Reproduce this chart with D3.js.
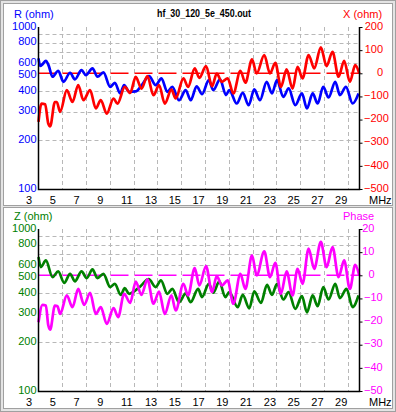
<!DOCTYPE html>
<html>
<head>
<meta charset="utf-8">
<script src="https://cdn.jsdelivr.net/npm/d3@7"></script>
<style>
body { margin: 0; background: #e4e4e4; }
svg { display: block; }
text { font-family: "Liberation Sans", Arial, sans-serif; font-size: 11px; }
</style>
</head>
<body>
<div id="chart"></div>
<script>
// frequency ticks (MHz)
var freqTicks = [3, 5, 7, 9, 11, 13, 15, 17, 19, 21, 23, 25, 27, 29];

// left (log) axis labels and grid
var ohmTicks = [1000, 800, 600, 500, 400, 300, 200, 100];
var ohmGrid = [200, 300, 400, 600, 700, 800, 900];

// right axis labels
var xTicks = [200, 100, 0, -100, -200, -300, -400, -500];
var phaseTicks = [20, 10, 0, -10, -20, -30, -40, -50];

// R (ohm) - blue
var rFreq = [3.0, 3.14, 3.35, 3.62, 3.85, 4.18, 4.66, 5.1, 5.66, 6.06, 6.62, 6.98, 7.54, 7.96, 8.46,
  9.03, 9.42, 9.87, 10.2, 10.62, 11.2, 11.7, 12.3, 12.86, 13.34, 13.84, 14.26, 14.82, 15.38, 15.8,
  16.3, 16.76, 17.32, 17.7, 18.27, 18.77, 19.05, 19.67, 20.18, 20.68, 21.15, 21.63, 22.19, 22.64,
  23.06, 23.59, 24.04, 24.6, 25.16, 25.58, 26.06, 26.48, 26.95, 27.4, 27.96, 28.35, 28.86, 29.42, 29.92];
var rVals = [640, 575, 590, 619, 580, 493, 537, 459, 522, 475, 542, 505, 555, 493, 525,
  427, 452, 389, 438, 398, 400, 440, 498, 438, 482, 398, 427, 353, 408, 353,
  430, 385, 470, 408, 475, 380, 408, 337, 392, 329, 412, 353, 459, 389,
  470, 370, 418, 329, 389, 314, 389, 337, 427, 367, 459, 380, 427, 337, 389];

// X (ohm) - red
var xFreq = [3.0, 3.25, 3.56, 3.82, 3.98, 4.38, 4.54, 4.82, 5.38, 5.86, 6.34, 6.78, 7.34, 7.82, 8.24,
  8.74, 9.31, 9.64, 10.26, 10.71, 11.18, 11.66, 12.16, 12.67, 13.14, 13.62, 14.18, 14.54, 15.19, 15.58,
  16.14, 16.53, 17.09, 17.6, 17.99, 18.43, 18.91, 19.39, 19.98, 20.4, 20.96, 21.35, 21.99, 22.47,
  22.92, 23.39, 23.87, 24.37, 24.79, 25.21, 25.72, 26.19, 26.75, 27.23, 27.73, 28.24, 28.71, 29.19, 29.64, 29.98];
var xVals = [-210, -131, -134, -217, -229, -124, -124, -167, -73, -124, -51, -116, -73, -152, -116,
  -174, -109, -131, -59, -85, -15, -66, -12, -95, -51, -131, -70, -109, -22, -59,
  21, -20, 31, -56, -1, -37, -22, -87, 11, -41, 60, -1, 79, -1,
  45, -59, 17, -66, 28, -22, 79, 21, 112, 31, 93, -15, 54, -37, 35, -1];

// Z (ohm) - green
var zFreq = [3.0, 3.2, 3.62, 4.18, 4.66, 5.16, 5.66, 6.06, 6.62, 7.06, 7.54, 7.96, 8.46, 9.03, 9.42,
  9.92, 10.26, 10.62, 11.1, 11.6, 12.27, 12.86, 13.3, 13.84, 14.26, 14.82, 15.38, 15.8, 16.42,
  16.76, 17.32, 17.7, 18.21, 18.71, 19.05, 19.75, 20.18, 20.73, 21.15, 21.71, 22.22, 22.64, 23.06,
  23.59, 24.04, 24.6, 25.16, 25.58, 26.06, 26.48, 26.95, 27.4, 27.96, 28.35, 28.91, 29.42, 29.92];
var zVals = [671, 582, 640, 505, 547, 465, 529, 475, 547, 498, 563, 498, 529, 438, 459,
  392, 431, 398, 415, 445, 490, 438, 482, 398, 427, 353, 400, 353, 427,
  380, 459, 404, 475, 380, 408, 329, 392, 324, 412, 350, 452, 392, 459,
  367, 408, 321, 385, 306, 389, 334, 438, 367, 459, 374, 427, 329, 389];

// Phase (deg) - magenta
var pFreq = [3.0, 3.34, 3.62, 3.82, 3.98, 4.38, 4.6, 4.82, 5.38, 5.86, 6.34, 6.84, 7.34, 7.82, 8.24,
  8.74, 9.31, 9.7, 10.2, 10.71, 11.18, 11.66, 12.16, 12.67, 13.14, 13.62, 14.18, 14.54, 15.19, 15.58,
  16.14, 16.53, 17.09, 17.6, 17.99, 18.43, 18.91, 19.39, 19.98, 20.4, 20.96, 21.35, 21.99, 22.47,
  22.92, 23.39, 23.87, 24.37, 24.79, 25.21, 25.72, 26.19, 26.75, 27.23, 27.73, 28.24, 28.71, 29.19, 29.64, 29.98];
var pVals = [-20.3, -12.8, -13.1, -21.5, -23.5, -13.1, -13.4, -16.7, -8.7, -13.8, -5.9, -12.8, -7.6, -16.7, -13.8,
  -21.0, -14.2, -18.1, -8.0, -11.9, -2.7, -8.5, -1.8, -12.3, -7.0, -16.7, -8.7, -15.2, -3.7, -8.7,
  3.1, -4.4, 4.0, -7.3, -0.4, -4.4, -2.2, -12.3, 0.6, -5.9, 8.6, -0.1, 10.3, -0.8,
  5.4, -8.0, 1.7, -8.7, 2.8, -3.7, 11.5, 2.8, 14.4, 3.5, 12.2, -0.8, 6.4, -5.9, 4.5, -0.1];

var W = 396, H = 412;
var svg = d3.select('#chart').append('svg').attr('width', W).attr('height', H);

// window background + panels
svg.append('rect').attr('x', 0.5).attr('y', 0.5).attr('width', W - 1).attr('height', H - 1)
  .attr('fill', '#e4e4e4').attr('stroke', '#a0a0a0');
svg.append('rect').attr('x', 3.5).attr('y', 3.5).attr('width', 389).attr('height', 202)
  .attr('fill', '#fff').attr('stroke', '#a0a0a0');
svg.append('rect').attr('x', 3.5).attr('y', 207.5).attr('width', 389).attr('height', 201)
  .attr('fill', '#fff').attr('stroke', '#a0a0a0');

var x0 = 38.5, x1 = 359.5;
var x = d3.scaleLinear().domain([3, 30]).range([x0, x1]);

function zip(f, v) {
  return f.map(function(d, i) { return [d, v[i]]; });
}

function drawPanel(off, o) {
  var top = 27 + off, bot = 189 + off;
  var g = svg.append('g');
  var yL = d3.scaleLog().domain([100, 1000]).range([bot, top]);
  var yR = d3.scaleLinear().domain(o.rDomain).range([bot, top]);

  // grid
  g.selectAll('.vg').data(freqTicks.slice(1)).enter().append('line')
    .attr('x1', function(d) { return Math.round(x(d)) + 0.5; })
    .attr('x2', function(d) { return Math.round(x(d)) + 0.5; })
    .attr('y1', top).attr('y2', bot)
    .attr('stroke', '#b8b8b8').attr('stroke-dasharray', '4,3');
  g.selectAll('.hg').data(ohmGrid).enter().append('line')
    .attr('x1', x0).attr('x2', x1)
    .attr('y1', function(d) { return Math.round(yL(d)) + 0.5; })
    .attr('y2', function(d) { return Math.round(yL(d)) + 0.5; })
    .attr('stroke', '#b8b8b8').attr('stroke-dasharray', '4,3');

  // zero reference
  g.append('line').attr('x1', x0).attr('x2', x1)
    .attr('y1', yR(0)).attr('y2', yR(0))
    .style('stroke', o.rColor).style('stroke-width', '1.6px')
    .attr('stroke-dasharray', '18,6');

  // curves
  var lineL = d3.line().x(function(d) { return x(d[0]); }).y(function(d) { return yL(d[1]); })
    .curve(d3.curveMonotoneX);
  var lineR = d3.line().x(function(d) { return x(d[0]); }).y(function(d) { return yR(d[1]); })
    .curve(d3.curveMonotoneX);
  g.append('path').datum(o.lData).attr('d', lineL)
    .attr('fill', 'none').attr('stroke', o.lColor).attr('stroke-width', 2.7).attr('stroke-linejoin', 'round');
  g.append('path').datum(o.rData).attr('d', lineR)
    .attr('fill', 'none').attr('stroke', o.rColor).attr('stroke-width', 2.7).attr('stroke-linejoin', 'round');

  // left axis
  var gl = g.append('g').attr('transform', 'translate(' + x0 + ',0)')
    .call(d3.axisLeft(yL).tickValues(ohmTicks).tickSize(0).tickPadding(2).tickFormat(d3.format('d')));
  gl.select('.domain').remove();
  gl.selectAll('text').attr('fill', o.lColor).attr('dy', '0.2em');

  // right axis
  var gr = g.append('g').attr('transform', 'translate(' + x1 + ',0)')
    .call(d3.axisRight(yR).tickValues(o.rTicks).tickSize(3).tickFormat(d3.format('d')));
  gr.select('.domain').remove();
  gr.selectAll('line').attr('stroke', '#000');
  gr.selectAll('text').attr('fill', o.rColor).attr('dy', '0.2em')
    .attr('text-anchor', function(d) { return d < 0 ? 'start' : 'end'; })
    .attr('x', function(d) { return d < 0 ? 4.5 : o.posEnd; });

  // bottom axis
  var gb = g.append('g').attr('transform', 'translate(0,' + bot + ')')
    .call(d3.axisBottom(x).tickValues(freqTicks).tickSize(0).tickPadding(7));
  gb.select('.domain').remove();
  gb.selectAll('text').attr('fill', '#000').attr('text-anchor', 'start').attr('x', -13);

  // axis frame
  g.append('path')
    .attr('d', 'M' + x0 + ',' + top + 'V' + (bot + 0.5) + 'H' + x1 + 'V' + top)
    .attr('fill', 'none').attr('stroke', '#000').attr('stroke-width', 1.5);

  // labels
  g.append('text').attr('x', 14).attr('y', 18 + off).attr('fill', o.lColor).text(o.lLabel);
  g.append('text').attr('x', 343).attr('y', 18 + off).attr('fill', o.rColor).text(o.rLabel);
  g.append('text').attr('x', 369).attr('y', bot + 15).attr('fill', '#000').text('MHz');
}

drawPanel(0, {
  rDomain: [-500, 200], rTicks: xTicks, posEnd: 23.5,
  lColor: '#0000ff', rColor: '#ff0000',
  lLabel: 'R (ohm)', rLabel: 'X (ohm)',
  lData: zip(rFreq, rVals), rData: zip(xFreq, xVals)
});

drawPanel(202, {
  rDomain: [-50, 20], rTicks: phaseTicks, posEnd: 15,
  lColor: '#008000', rColor: '#ff00ff',
  lLabel: 'Z (ohm)', rLabel: 'Phase',
  lData: zip(zFreq, zVals), rData: zip(pFreq, pVals)
});

svg.append('text').attr('x', 204).attr('y', 17).attr('text-anchor', 'middle')
  .attr('font-weight', 'bold').attr('font-size', '12px')
  .attr('textLength', 94).attr('lengthAdjust', 'spacingAndGlyphs')
  .text('hf_30_120_5e_450.out');
</script>
</body>
</html>
